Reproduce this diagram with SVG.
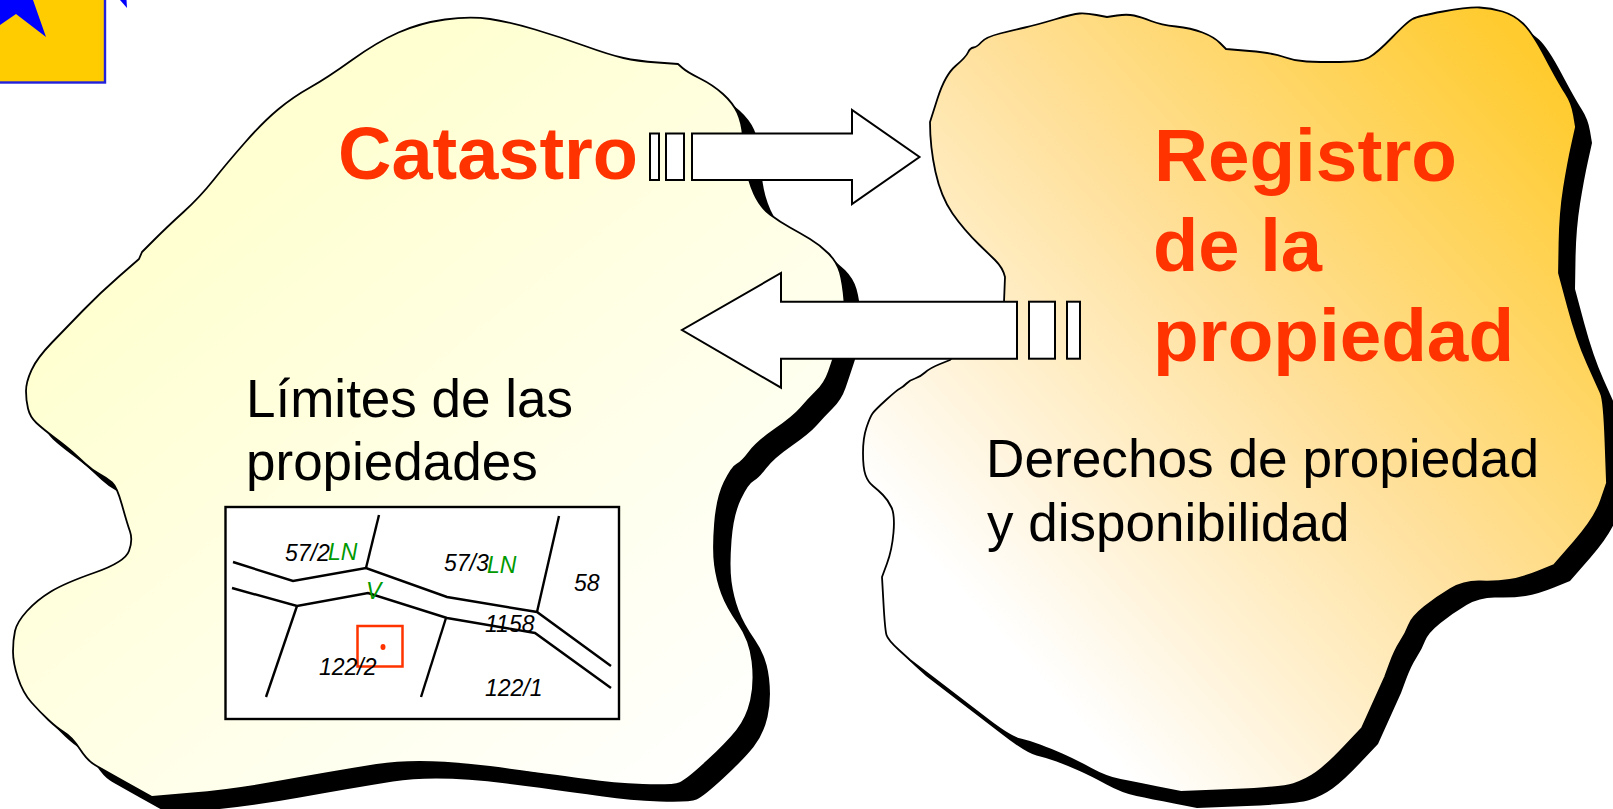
<svg xmlns="http://www.w3.org/2000/svg" xmlns:xlink="http://www.w3.org/1999/xlink" width="1613" height="809" viewBox="0 0 1613 809">
<style>
text{font-family:"Liberation Sans",Arial,sans-serif}
.title{font-size:75px;font-weight:700;fill:#FF3300}
.body{font-size:53px;fill:#000}
.p{font-size:23px;font-style:italic;fill:#000}
.g{font-size:23px;font-style:italic;fill:#009900}
.blob{stroke:#000;stroke-width:1.8;stroke-linejoin:round}
.sh{fill:#000;stroke:none}
.ar{fill:#fff;stroke:#000;stroke-width:2;stroke-linejoin:miter}
.road{fill:none;stroke:#000;stroke-width:2.4}
</style>
<defs>
<linearGradient id="g1" gradientUnits="userSpaceOnUse" x1="250" y1="200" x2="720" y2="790">
<stop offset="0" stop-color="#FFFFD2"/><stop offset="1" stop-color="#FFFFFF"/>
</linearGradient>
<linearGradient id="g2" gradientUnits="userSpaceOnUse" x1="1060" y1="700" x2="1640" y2="170">
<stop offset="0" stop-color="#FFFFFF"/><stop offset="0.5" stop-color="#FFE09A"/><stop offset="1" stop-color="#FFCB2E"/>
</linearGradient>
<path id="b1" d="M445,19.5Q470,16 490,19Q510,22 535,29.5Q560,37 585,46Q610,55 623.5,58Q637,61 657.5,62.5L678,64L682.5,68Q687,72 700,78.5Q713,85 723,94Q733,103 737.5,113Q742,123 743,136.5Q744,150 746,165Q748,180 754,193.5Q760,207 770,214.5Q780,222 790,227.5Q800,233 810,239Q820,245 828.5,253.5Q837,262 840,272.5Q843,283 844.5,301.5Q846,320 839.5,340Q833,360 829,371.5Q825,383 816.5,391.5Q808,400 800.5,408.5Q793,417 775,429.5Q757,442 749.5,452Q742,462 737,464.5Q732,467 724.5,482.5Q717,498 715,524Q713,550 715,565Q717,580 722,593.5Q727,607 738.5,623.5Q750,640 752.5,661.5Q755,683 751,700.5Q747,718 737,730.5Q727,743 707,761.5Q687,780 680,783Q673,786 643,785Q613,784 586.5,780Q560,776 490,767Q420,758 376.5,765Q333,772 283,781Q233,790 192.5,793.5L152,797L126,782.5Q100,768 93.5,764Q87,760 79.5,748.5Q72,737 64.5,732.5Q57,728 48.5,720Q40,712 31.5,702.5Q23,693 18,678Q13,663 13,651.5Q13,640 15,631Q17,622 27,611Q37,600 51,591.5Q65,583 95,572.5Q125,562 129,551Q133,540 130,531.5Q127,523 122,505Q117,487 112,482.5Q107,478 99.5,474Q92,470 85,463.5Q78,457 72.5,452Q67,447 55,438Q43,429 36.5,423Q30,417 28,408.5Q26,400 26,391Q26,382 31.5,370Q37,358 52,342.5Q67,327 83.5,310Q100,293 119.5,276L139,259L142,252L154.5,239.5Q167,227 183.5,212Q200,197 213.5,180Q227,163 245,142.5Q263,122 278,109.5Q293,97 310,87.5Q327,78 352,60Q377,42 398.5,32.5Q420,23 445,19.5Z"/>
<path id="b2" d="M930,122L937.5,98.5Q945,75 955.5,66Q966,57 968,52.5Q970,48 973.5,47.5Q977,47 981.5,42Q986,37 1000,33.5Q1014,30 1025,27.5Q1036,25 1054.5,19.5Q1073,14 1079.5,13.5Q1086,13 1096.5,15L1107,17L1117,15.5Q1127,14 1134,15.5Q1141,17 1151,21Q1161,25 1176,26.5Q1191,28 1202.5,32.5Q1214,37 1220,43L1226,49L1249.5,51Q1273,53 1284,57Q1295,61 1306.5,61.5Q1318,62 1339.5,62Q1361,62 1369,57.5Q1377,53 1392,37.5Q1407,22 1412.5,19Q1418,16 1443,11.5Q1468,7 1479.5,7.5Q1491,8 1502.5,11.5Q1514,15 1523,23.5Q1532,32 1545.5,57.5Q1559,83 1565.5,93Q1572,103 1574,115L1576,127L1572,145Q1568,163 1564,188Q1560,213 1559.5,243L1559,273L1568,306.5Q1577,340 1587.5,363.5Q1598,387 1601,393.5Q1604,400 1605.5,441.5L1607,483L1601,500.5Q1595,518 1574.5,541.5L1554,565L1538,571.5Q1522,578 1509.5,580Q1497,582 1480.5,581.5Q1464,581 1450.5,589Q1437,597 1424.5,607Q1412,617 1409,625Q1406,633 1400.5,641.5Q1395,650 1390,663.5L1385,677L1362,728L1344.5,746.5Q1327,765 1316.5,772.5Q1306,780 1293.5,784Q1281,788 1231,790L1181,792L1158,787.5Q1135,783 1120.5,780Q1106,777 1090.5,768.5Q1075,760 1062.5,754.5Q1050,749 1040.5,745.5Q1031,742 1020.5,739.5Q1010,737 985,717.5L910,660L899,650Q888,640 886.5,635Q885,630 883.5,603.5L882,577L887,563.5Q892,550 893.5,532.5Q895,515 891.5,507.5Q888,500 883,495Q878,490 873,486Q868,482 865.5,475Q863,468 863,453Q863,438 866.5,427.5Q870,417 872.5,413.5Q875,410 886,400Q897,390 900,388.5Q903,387 906.5,383.5Q910,380 915,378.5Q920,377 925,372.5Q930,368 940,364L950,360L1004,302L1005,277Q1003,268 995,260L979.5,245Q964,230 952.5,213.5Q941,197 935.5,172Q930,147 930,122Z"/>
</defs>
<rect width="1613" height="809" fill="#fff"/>
<g id="logo">
<rect x="-3" y="-3" width="108" height="85.5" fill="#FFCC00" stroke="#2222DD" stroke-width="2.4"/>
<polygon points="33,0 46,37 16,14 0,25 0,0" fill="#0000FF"/>
<polygon points="120,0 127,8 126.5,0" fill="#0000FF"/>
</g>
<g id="catastro">
<use xlink:href="#b1" href="#b1" class="sh" transform="translate(16.5 16.5)"/>
<use xlink:href="#b1" href="#b1" class="blob" fill="url(#g1)"/>
<text class="title" x="338" y="179" textLength="300" lengthAdjust="spacingAndGlyphs">Catastro</text>
<text class="body" x="246" y="417">Límites de las</text>
<text class="body" x="246" y="480">propiedades</text>
</g>
<g id="registro">
<use xlink:href="#b2" href="#b2" class="sh" transform="translate(16 16)"/>
<use xlink:href="#b2" href="#b2" class="blob" fill="url(#g2)"/>
<text class="title" x="1154" y="181" textLength="303" lengthAdjust="spacingAndGlyphs">Registro</text>
<text class="title" x="1153" y="271" textLength="169" lengthAdjust="spacingAndGlyphs">de la</text>
<text class="title" x="1153" y="361" textLength="361" lengthAdjust="spacingAndGlyphs">propiedad</text>
<text class="body" x="986" y="477" textLength="553" lengthAdjust="spacingAndGlyphs">Derechos de propiedad</text>
<text class="body" x="987" y="541">y disponibilidad</text>
</g>
<g id="parcel-map">
<rect x="225.5" y="507" width="393.5" height="212" fill="#fff" stroke="#000" stroke-width="2.4"/>
<polyline class="road" points="233,562 293,581 366,568 447,597 537,612 611,666"/>
<polyline class="road" points="232,588 297,606 368,593 447,618 535,633 611,688"/>
<line class="road" x1="379" y1="515" x2="366" y2="568"/>
<line class="road" x1="559" y1="516" x2="537" y2="612"/>
<line class="road" x1="297" y1="606" x2="266" y2="697"/>
<line class="road" x1="446" y1="618" x2="421" y2="697"/>
<rect x="357.5" y="626" width="45" height="40.5" fill="none" stroke="#FF3300" stroke-width="2.5"/>
<ellipse cx="383" cy="647" rx="2.5" ry="3" fill="#FF3300"/>
<text class="p" x="285" y="560.5">57/2</text>
<text class="g" x="328" y="560">LN</text>
<text class="p" x="444" y="571">57/3</text>
<text class="g" x="487" y="573">LN</text>
<text class="p" x="574" y="591">58</text>
<text class="g" x="366" y="599">V</text>
<text class="p" x="485" y="632">1158</text>
<text class="p" x="319" y="675">122/2</text>
<text class="p" x="485" y="696">122/1</text>
</g>
<g id="connectors">
<g id="arrow-to-registro">
<rect class="ar" x="650" y="133.5" width="9" height="46.5"/>
<rect class="ar" x="666" y="133.5" width="18" height="46.5"/>
<polygon class="ar" points="692,133.5 852,133.5 852,110 919.5,157 852,204 852,180 692,180"/>
</g>
<g id="arrow-to-catastro">
<rect class="ar" x="1029" y="301.7" width="26" height="57"/>
<rect class="ar" x="1067" y="301.7" width="13" height="57"/>
<polygon class="ar" points="1017,301.7 781,301.7 781,273 682,330 781,387.7 781,358.7 1017,358.7"/>
</g>
</g>
</svg>
